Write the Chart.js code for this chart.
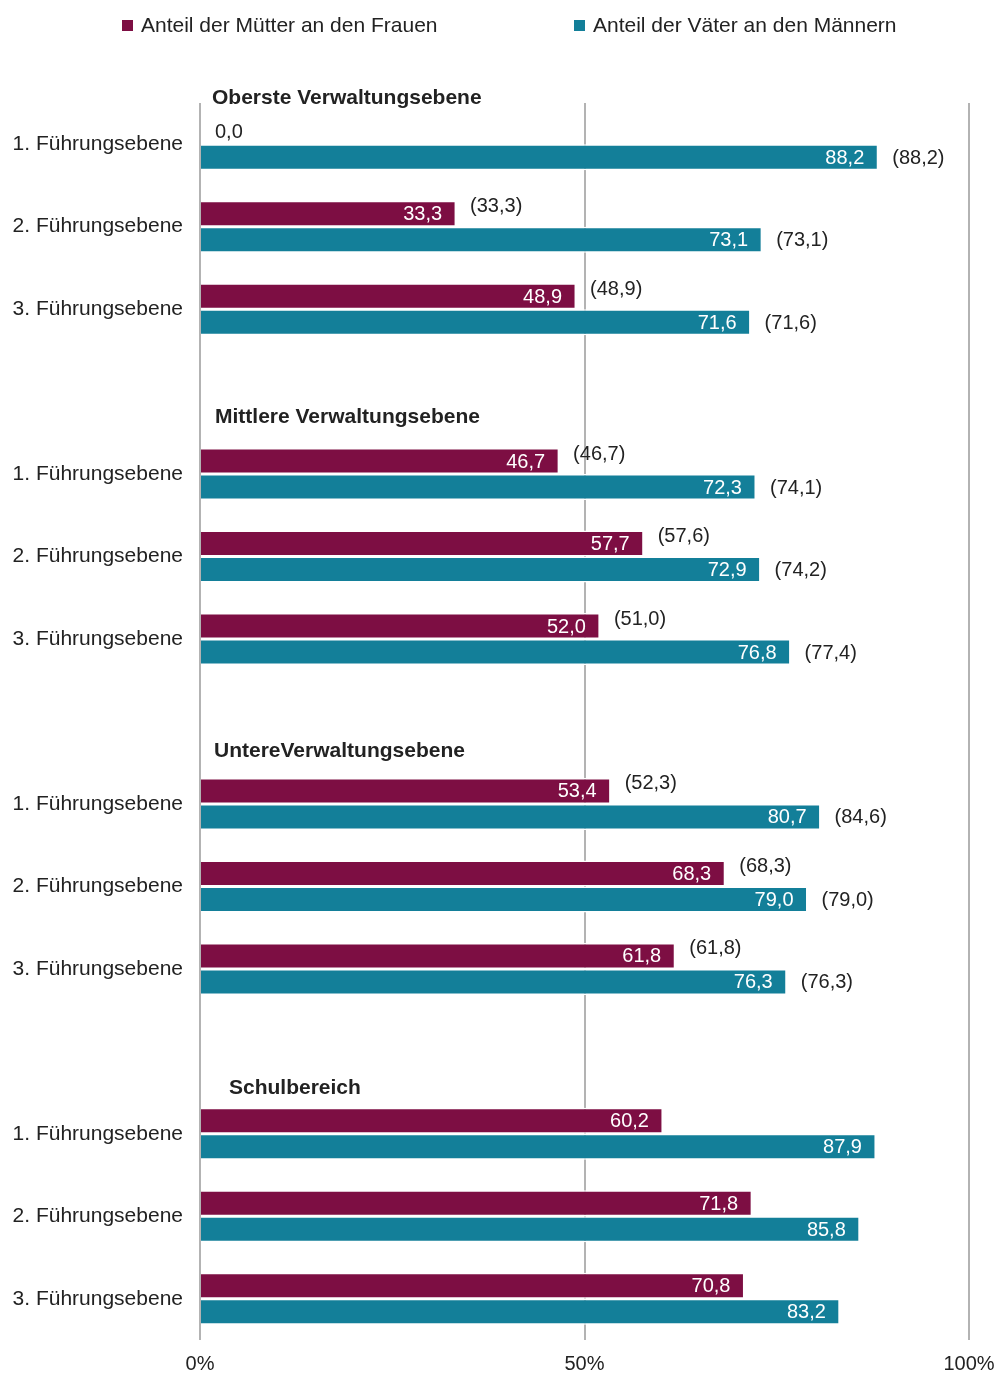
<!DOCTYPE html>
<html>
<head>
<meta charset="utf-8">
<script src="https://cdn.jsdelivr.net/npm/chart.js@4"></script>
<style>
  html, body { margin: 0; padding: 0; background: #fff; }
  #box { width: 995px; height: 1373px; position: relative; }
</style>
</head>
<body>
<div id="box"><canvas id="c"></canvas></div>
<script>
// Anteil der Mütter / Väter je Führungsebene (leere Kategorien trennen die Gruppen)
var rows = [
  "1. Führungsebene", "2. Führungsebene", "3. Führungsebene", "",
  "1. Führungsebene", "2. Führungsebene", "3. Führungsebene", "",
  "1. Führungsebene", "2. Führungsebene", "3. Führungsebene", "",
  "1. Führungsebene", "2. Führungsebene", "3. Führungsebene"
];
var groupTitles = ["Oberste Verwaltungsebene", "Mittlere Verwaltungsebene", "UntereVerwaltungsebene", "Schulbereich"];
var groupFirstRow = [0, 4, 8, 12];
var seriesNames = ["Anteil der Mütter an den Frauen", "Anteil der Väter an den Männern"];
var muetter = [0.0, 33.3, 48.9, null, 46.7, 57.7, 52.0, null, 53.4, 68.3, 61.8, null, 60.2, 71.8, 70.8];
var muetterKlammer = [null, 33.3, 48.9, null, 46.7, 57.6, 51.0, null, 52.3, 68.3, 61.8, null, null, null, null];
var vaeter = [88.2, 73.1, 71.6, null, 72.3, 72.9, 76.8, null, 80.7, 79.0, 76.3, null, 87.9, 85.8, 83.2];
var vaeterKlammer = [88.2, 73.1, 71.6, null, 74.1, 74.2, 77.4, null, 84.6, 79.0, 76.3, null, null, null, null];
var xTicks = [0, 50, 100];

var colors = ["#7d0e43", "#137f99"];
var textColor = "#222222";
var gridColor = "#b3b3b3";
var FONT = "'Liberation Sans', Arial, sans-serif";
Chart.defaults.font.family = FONT;

function fmt(v) { return v.toFixed(1).replace(".", ","); }

var labelPlugin = {
  id: "labels",
  afterDatasetsDraw: function (chart) {
    var ctx = chart.ctx;
    var area = chart.chartArea;
    var xs = chart.scales.x;
    var ys = chart.scales.y;
    // 0-Linie wieder über die Balken legen
    ctx.save();
    ctx.strokeStyle = gridColor;
    ctx.lineWidth = 2;
    ctx.beginPath();
    var x0 = Math.round(xs.getPixelForValue(0));
    ctx.moveTo(x0, area.top);
    ctx.lineTo(x0, area.bottom);
    ctx.stroke();

    var klammern = [muetterKlammer, vaeterKlammer];
    ctx.font = "20px " + FONT;
    ctx.textBaseline = "middle";
    chart.data.datasets.forEach(function (ds, di) {
      var meta = chart.getDatasetMeta(di);
      meta.data.forEach(function (bar, i) {
        var v = ds.data[i];
        if (v === null) return;
        if (v > 0) {
          ctx.fillStyle = "#ffffff";
          ctx.textAlign = "right";
          ctx.fillText(fmt(v), bar.x - 14, bar.y + 1);
        } else {
          ctx.fillStyle = textColor;
          ctx.textAlign = "left";
          ctx.fillText(fmt(v), bar.base + 15, bar.y + 1);
        }
        var k = klammern[di][i];
        if (k !== null) {
          ctx.fillStyle = textColor;
          ctx.textAlign = "left";
          ctx.fillText("(" + fmt(k) + ")", bar.x + 14, bar.y + (di === 0 ? -7 : 1));
        }
      });
    });

    // Gruppenüberschriften
    var shift = [46, 57, 53, 46];
    var indent = [12, 15, 14, 29];
    ctx.font = "bold 21px " + FONT;
    ctx.fillStyle = textColor;
    ctx.textAlign = "left";
    groupTitles.forEach(function (t, g) {
      var y = ys.getPixelForValue(groupFirstRow[g]) - shift[g];
      ctx.fillText(t, area.left + indent[g], y);
    });

    // Legende
    var lx = [122, 574];
    ctx.font = "21px " + FONT;
    seriesNames.forEach(function (n, si) {
      ctx.fillStyle = colors[si];
      ctx.fillRect(lx[si], 20, 11, 11);
      ctx.fillStyle = textColor;
      ctx.fillText(n, lx[si] + 19, 26);
    });
    ctx.restore();
  }
};

new Chart(document.getElementById("c"), {
  type: "bar",
  data: {
    labels: rows,
    datasets: [
      { label: seriesNames[0], data: muetter, backgroundColor: colors[0] },
      { label: seriesNames[1], data: vaeter, backgroundColor: colors[1] }
    ]
  },
  options: {
    indexAxis: "y",
    responsive: true,
    maintainAspectRatio: false,
    animation: false,
    layout: { padding: { top: 103, right: 26, left: 0, bottom: 0 } },
    datasets: {
      bar: {
        categoryPercentage: 0.63,
        barPercentage: 1.0,
        borderColor: "#ffffff",
        borderWidth: 1.5,
        borderSkipped: "start"
      }
    },
    plugins: {
      legend: { display: false },
      tooltip: { enabled: false }
    },
    scales: {
      x: {
        min: 0,
        max: 100,
        afterBuildTicks: function (s) { s.ticks = xTicks.map(function (v) { return { value: v }; }); },
        afterFit: function (s) { s.height = 33; s.paddingLeft = 0; s.paddingRight = 0; },
        border: { display: false },
        grid: { color: gridColor, lineWidth: 2, drawTicks: false },
        ticks: {
          padding: 12,
          color: textColor,
          font: { size: 20 },
          callback: function (v) { return v + "%"; }
        }
      },
      y: {
        afterFit: function (s) { s.width = 200; },
        border: { display: false },
        grid: { display: false, drawTicks: false },
        ticks: {
          padding: 17,
          color: textColor,
          font: { size: 21 },
          autoSkip: false
        }
      }
    }
  },
  plugins: [labelPlugin]
});
</script>
</body>
</html>
